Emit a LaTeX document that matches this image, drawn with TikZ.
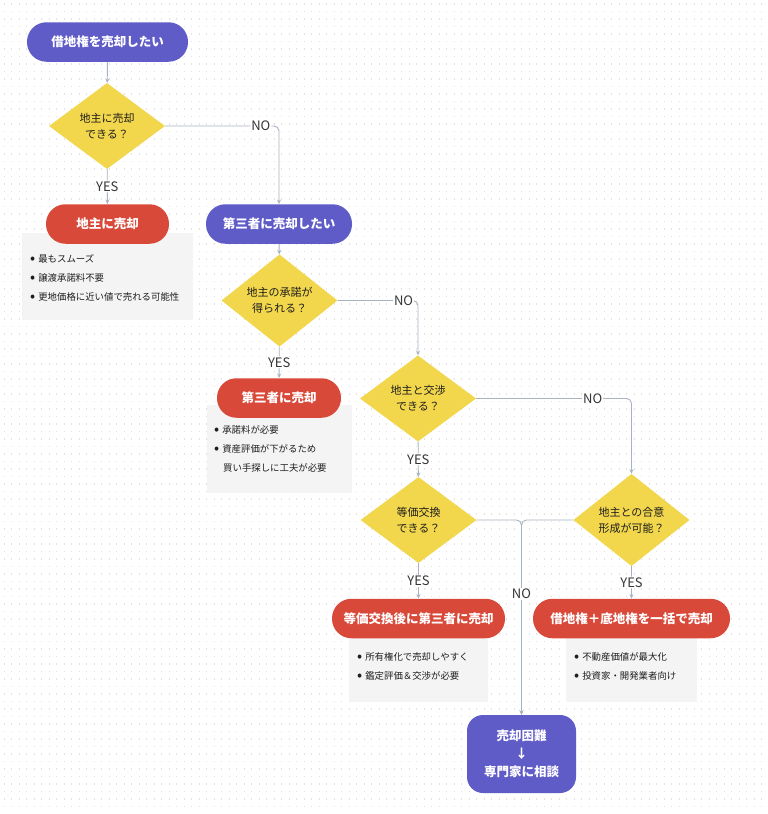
\documentclass[tikz,border=0pt]{standalone}
\usepackage{fontspec}
\setmainfont{Noto Sans CJK JP}
\usetikzlibrary{shapes.geometric,arrows.meta}
\definecolor{pur}{HTML}{5F5BC7}
\definecolor{redc}{HTML}{D9493A}
\definecolor{yel}{HTML}{F2D64B}
\definecolor{notec}{HTML}{F4F4F4}
\definecolor{edgec}{HTML}{A8B3C0}
\definecolor{dotc}{HTML}{E2E2E2}
\definecolor{txt}{HTML}{1E1E1E}
\newcommand{\bul}{\raisebox{-0.5pt}{\fontsize{15}{11}\selectfont\textbullet}\hspace{3pt}}
\begin{document}
\begin{tikzpicture}[x=1pt,y=-1pt,
  pill/.style={fill=#1, rounded corners=19.5pt, minimum height=39.5pt, inner sep=0pt,
    text=white, font=\bfseries\fontsize{12.5}{15}\selectfont},
  dia/.style={diamond, fill=yel, minimum width=116pt, minimum height=86pt, inner sep=0pt,
    align=center, text=txt, font=\fontsize{11}{16}\selectfont},
  notebox/.style={fill=notec},
  notetext/.style={anchor=west, inner sep=0pt, text=txt, font=\fontsize{9.4}{11}\selectfont},
  conn/.style={draw=edgec, line width=0.9pt, rounded corners=5pt, -{Stealth[length=4.5pt,width=4pt]}},
  lab/.style={fill=white, inner sep=1pt, text=txt!90, font=\fontsize{13}{15}\selectfont}
]
\useasboundingbox (0,0) rectangle (768,814);
\fill[white] (0,0) rectangle (768,814);
\foreach \yy in {4,11.5,...,812}
  \draw[dotc, line width=1.1pt, dash pattern=on 1.1pt off 6.4pt] (3.5,\yy) -- (768,\yy);

% note boxes
\fill[notebox] (22,233) rectangle (193,320);
\fill[notebox] (207,405) rectangle (352,493);
\fill[notebox] (349,638) rectangle (488,702);
\fill[notebox] (566,638) rectangle (697,702);

% nodes
\node[pill=pur, minimum width=161pt] (start) at (107.5,42) {借地権を売却したい};
\node[dia] (d1) at (107,126) {地主に売却\\できる？};
\node[pill=redc, minimum width=123pt] (r1) at (107.5,224) {地主に売却};
\node[pill=pur, minimum width=146pt] (p2) at (279,224) {第三者に売却したい};
\node[dia] (d2) at (279.5,300.5) {地主の承諾が\\得られる？};
\node[pill=redc, minimum width=124pt] (r2) at (279,398) {第三者に売却};
\node[dia] (d3) at (418,398.5) {地主と交渉\\できる？};
\node[dia] (d4) at (418.5,520) {等価交換\\できる？};
\node[dia] (d5) at (631.5,520) {地主との合意\\形成が可能？};
\node[pill=redc, minimum width=173pt] (r3) at (418.5,618.5) {等価交換後に第三者に売却};
\node[pill=redc, minimum width=197pt] (r4) at (631.5,618.5) {借地権＋底地権を一括で売却};
\node[fill=pur, rounded corners=16pt, minimum width=109pt, minimum height=78pt, inner sep=0pt,
  align=center, text=white, font=\bfseries\fontsize{12.5}{18}\selectfont] (fin) at (521.5,754) {売却困難\\↓\\専門家に相談};

% note texts
\node[notetext] (n1a) at (30,259) {\bul 最もスムーズ};
\node[notetext] (n1b) at (30,278) {\bul 譲渡承諾料不要};
\node[notetext] (n1c) at (30,297) {\bul 更地価格に近い値で売れる可能性};
\node[notetext] (n2a) at (214,430) {\bul 承諾料が必要};
\node[notetext] (n2b) at (214,449) {\bul 資産評価が下がるため};
\node[notetext] (n2c) at (223,468) {買い手探しに工夫が必要};
\node[notetext] (n3a) at (357,657) {\bul 所有権化で売却しやすく};
\node[notetext] (n3b) at (357,676) {\bul 鑑定評価＆交渉が必要};
\node[notetext] (n4a) at (574,657) {\bul 不動産価値が最大化};
\node[notetext] (n4b) at (574,676) {\bul 投資家・開発業者向け};

% connectors
\draw[conn] (start) -- (d1);
\draw[conn] (d1) -- node[lab] {YES} (r1);
\draw[conn] (d1.east) -| node[lab, pos=0.42] {NO} (p2.north);
\draw[conn] (p2) -- (d2);
\draw[conn] (d2) -- node[lab] {YES} (r2);
\draw[conn] (d2.east) -| node[lab, pos=0.41] {NO} (d3.north);
\draw[conn] (d3) -- node[lab] {YES} (d4);
\draw[conn] (d3.east) -| node[lab, pos=0.375] {NO} (d5.north);
\draw[conn] (d4) -- node[lab] {YES} (r3);
\draw[conn] (d5) -- node[lab] {YES} (r4);
\draw[conn] (d5.west) -| (fin.north);
\draw[conn] (d4.east) -| node[lab, pos=0.69] {NO} (fin.north);
\end{tikzpicture}
\end{document}
